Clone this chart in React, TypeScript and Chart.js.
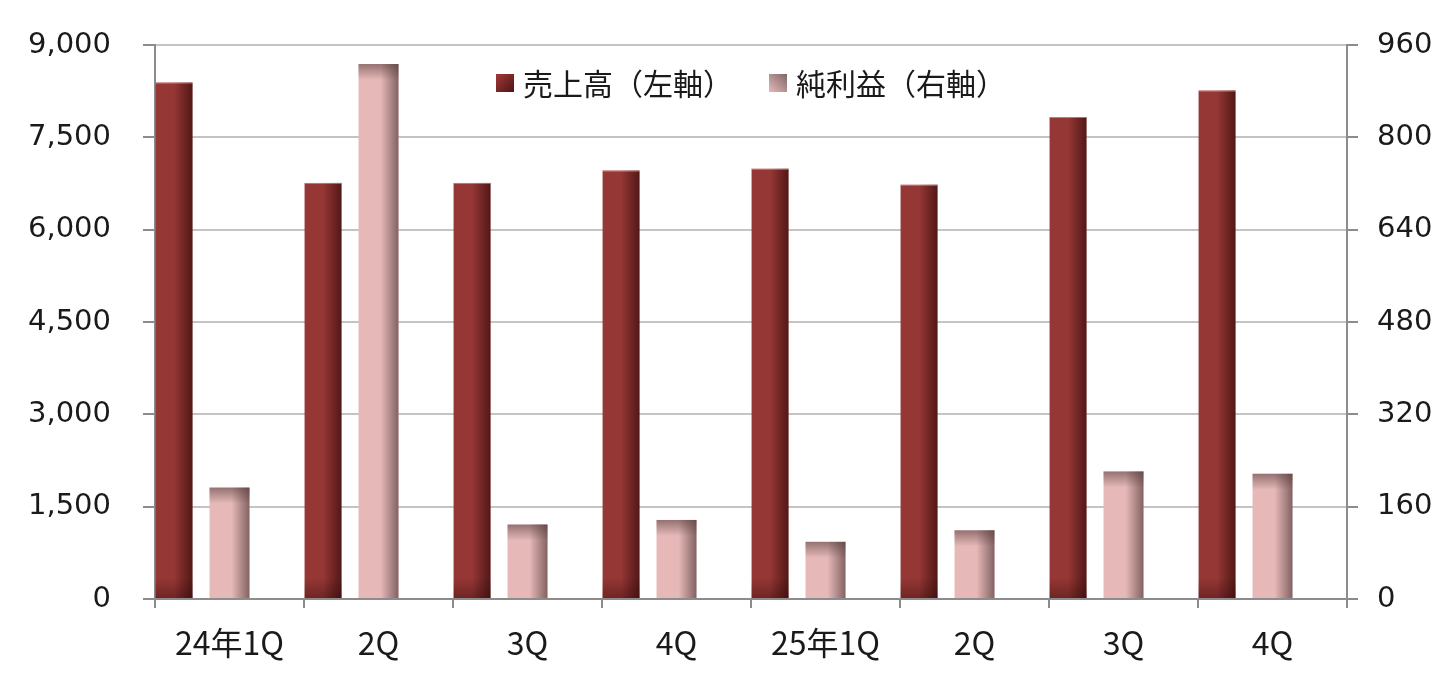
import React, { useEffect, useRef } from 'react';
import { Chart, registerables } from 'chart.js';

Chart.register(...registerables);

const categories = ['24年1Q', '2Q', '3Q', '4Q', '25年1Q', '2Q', '3Q', '4Q'];
const salesValues = [8390, 6760, 6760, 6960, 6990, 6730, 7830, 8260];
const profitValues = [193, 927, 129, 137, 99, 119, 221, 217];
const spacerValues = [null, null, null, null, null, null, null, null];
const seriesLabels = ['売上高（左軸）', '純利益（右軸）'];
const leftAxisMax = 9000;
const leftAxisStep = 1500;
const rightAxisMax = 960;
const rightAxisStep = 160;

const DARK = '#953735';
const PINK = '#e6b9b8';
const AXIS = '#8c8c8c';
const GRID = '#c4c4c4';
const TEXT = '#1a1a1a';

const shadePlugin = {
  id: 'barShade',
  afterDatasetsDraw(chart: any) {
    const ctx = chart.ctx;
    ctx.save();
    const area = chart.chartArea;
    ctx.beginPath();
    ctx.rect(area.left, area.top, area.right - area.left, area.bottom - area.top);
    ctx.clip();
    [0, 1].forEach((di) => {
      const meta = chart.getDatasetMeta(di);
      meta.data.forEach((el: any) => {
        const p = el.getProps(['x', 'y', 'base', 'width'], true);
        if (p.y == null || isNaN(p.y)) return;
        const left = p.x - p.width / 2;
        const right = p.x + p.width / 2;
        const top = Math.min(p.y, p.base);
        const bottom = Math.max(p.y, p.base);
        const w = right - left;
        const h = bottom - top;
        const g = ctx.createLinearGradient(left, 0, right, 0);
        if (di === 0) {
          g.addColorStop(0, 'rgba(40,5,5,0)');
          g.addColorStop(0.5, 'rgba(40,5,5,0)');
          g.addColorStop(1, 'rgba(40,5,5,0.62)');
        } else {
          g.addColorStop(0, 'rgba(70,45,45,0)');
          g.addColorStop(0.55, 'rgba(70,45,45,0)');
          g.addColorStop(1, 'rgba(70,45,45,0.62)');
        }
        ctx.fillStyle = g;
        ctx.fillRect(left, top, w, h);
        if (di === 1) {
          const band = Math.min(16, h);
          const gt = ctx.createLinearGradient(0, top, 0, top + band);
          gt.addColorStop(0, 'rgba(80,55,55,0.55)');
          gt.addColorStop(1, 'rgba(80,55,55,0)');
          ctx.fillStyle = gt;
          ctx.fillRect(left, top, w, band);
        } else {
          const band = Math.min(20, h);
          const gb = ctx.createLinearGradient(0, bottom - band, 0, bottom);
          gb.addColorStop(0, 'rgba(40,5,5,0)');
          gb.addColorStop(1, 'rgba(40,5,5,0.35)');
          ctx.fillStyle = gb;
          ctx.fillRect(left, bottom - band, w, band);
          ctx.fillStyle = 'rgba(230,170,170,0.6)';
          ctx.fillRect(left, top, w, 1);
        }
      });
    });
    ctx.restore();
  },
};

const legendPlugin = {
  id: 'innerLegend',
  afterDraw(chart: any) {
    const ctx = chart.ctx;
    const area = chart.chartArea;
    const font = '30px "Noto Sans CJK JP", "DejaVu Sans", sans-serif';
    const box = 18;
    const gapText = 9;
    const gapItems = 36;
    ctx.save();
    ctx.font = font;
    const labels = chart.data.datasets.slice(0, 2).map((d: any) => d.label as string);
    const widths = labels.map((l: string) => ctx.measureText(l).width);
    const total = widths.reduce((a: number, b: number) => a + b, 0) + labels.length * (box + gapText) + gapItems * (labels.length - 1);
    let x = (area.left + area.right) / 2 - total / 2;
    const cy = area.top + 38;
    labels.forEach((label: string, i: number) => {
      let g;
      if (i === 0) {
        g = ctx.createLinearGradient(x, cy - box / 2, x + box, cy + box / 2);
        g.addColorStop(0, '#a03a38');
        g.addColorStop(1, '#4e1514');
      } else {
        g = ctx.createLinearGradient(x, cy + box / 2, x + box, cy - box / 2);
        g.addColorStop(0, '#e6b9b8');
        g.addColorStop(1, '#7f6767');
      }
      ctx.fillStyle = g;
      ctx.fillRect(x, cy - box / 2, box, box);
      x += box + gapText;
      ctx.fillStyle = TEXT;
      ctx.textBaseline = 'middle';
      ctx.textAlign = 'left';
      ctx.fillText(label, x, cy + 1);
      x += widths[i] + gapItems;
    });
    ctx.restore();
  },
};

export default function App() {
  const canvasRef = useRef<HTMLCanvasElement | null>(null);

  useEffect(() => {
    document.body.style.margin = '0';
    const canvas = canvasRef.current;
    if (!canvas) return;
    const chart = new Chart(canvas, {
      type: 'bar',
      data: {
        labels: categories,
        datasets: [
          {
            label: seriesLabels[0],
            data: salesValues,
            backgroundColor: DARK,
            yAxisID: 'y',
            categoryPercentage: 1.117,
            barPercentage: 0.665,
          },
          {
            label: seriesLabels[1],
            data: profitValues,
            backgroundColor: PINK,
            yAxisID: 'y1',
            categoryPercentage: 1.117,
            barPercentage: 0.72,
          },
          {
            label: '',
            data: spacerValues,
            backgroundColor: 'rgba(0,0,0,0)',
            yAxisID: 'y',
            categoryPercentage: 1.117,
            barPercentage: 0.72,
          },
        ],
      } as any,
      options: {
        responsive: false,
        animation: false,
        devicePixelRatio: 1,
        layout: { padding: { top: 45, left: 0, right: 0, bottom: 0 } },
        plugins: {
          legend: { display: false },
          tooltip: { enabled: false },
        },
        scales: {
          x: {
            grid: {
              offset: true,
              drawOnChartArea: false,
              drawTicks: true,
              tickLength: 9,
              color: AXIS,
              lineWidth: 2,
            },
            border: { color: AXIS, width: 2 },
            ticks: {
              color: TEXT,
              font: { family: '"Noto Sans CJK JP", "DejaVu Sans", sans-serif', size: 32 },
              padding: 16,
              maxRotation: 0,
              autoSkip: false,
            },
            afterFit(scale: any) {
              scale.height = 82;
            },
          },
          y: {
            position: 'left',
            min: 0,
            max: leftAxisMax,
            ticks: {
              stepSize: leftAxisStep,
              color: TEXT,
              font: { family: '"DejaVu Sans", sans-serif', size: 29 },
              padding: 32,
              callback: (v: any) => Number(v).toLocaleString('en-US'),
            },
            grid: {
              color: GRID,
              lineWidth: 2,
              tickLength: 12,
              tickColor: AXIS,
            },
            border: { color: AXIS, width: 2 },
            afterFit(scale: any) {
              scale.width = 155;
              scale.paddingTop = 0;
              scale.paddingBottom = 0;
            },
          },
          y1: {
            position: 'right',
            min: 0,
            max: rightAxisMax,
            ticks: {
              stepSize: rightAxisStep,
              color: TEXT,
              font: { family: '"DejaVu Sans", sans-serif', size: 29 },
              padding: 19,
            },
            grid: {
              drawOnChartArea: false,
              tickLength: 11,
              color: AXIS,
              lineWidth: 2,
            },
            border: { color: AXIS, width: 2 },
            afterFit(scale: any) {
              scale.width = 109;
              scale.paddingTop = 0;
              scale.paddingBottom = 0;
            },
          },
        },
      } as any,
      plugins: [shadePlugin, legendPlugin],
    });
    return () => chart.destroy();
  }, []);

  return (
    <div style={{ position: 'absolute', left: 0, top: 0, width: 1456, height: 681, background: '#fff' }}>
      <canvas ref={canvasRef} width={1456} height={681} style={{ width: 1456, height: 681, display: 'block' }} />
    </div>
  );
}
